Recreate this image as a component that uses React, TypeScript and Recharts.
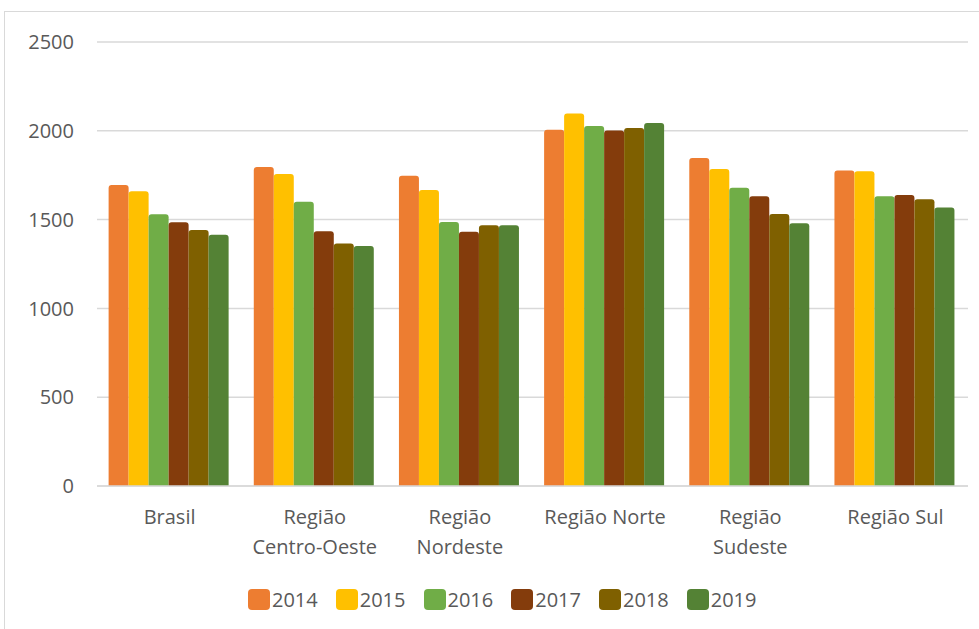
import React from 'react';
import {
  BarChart,
  Bar,
  XAxis,
  YAxis,
  CartesianGrid,
  Legend,
} from 'recharts';

const regions = [
  'Brasil',
  'Região\nCentro-Oeste',
  'Região\nNordeste',
  'Região Norte',
  'Região\nSudeste',
  'Região Sul',
];

const years = ['2014', '2015', '2016', '2017', '2018', '2019'];

const v2014 = [1695, 1796, 1747, 2006, 1847, 1776];
const v2015 = [1659, 1757, 1667, 2098, 1785, 1772];
const v2016 = [1530, 1601, 1487, 2027, 1680, 1631];
const v2017 = [1485, 1434, 1432, 2002, 1631, 1639];
const v2018 = [1442, 1365, 1468, 2016, 1532, 1614];
const v2019 = [1414, 1352, 1468, 2044, 1479, 1568];

const yTicks = [0, 500, 1000, 1500, 2000, 2500];

const colors = ['#ED7D31', '#FFC000', '#70AD47', '#843C0C', '#7F6000', '#548235'];

const series = [v2014, v2015, v2016, v2017, v2018, v2019];

const data = regions.map((name, i) => {
  const row: Record<string, string | number> = { name };
  years.forEach((y, j) => {
    row[y] = series[j][i];
  });
  return row;
});

const FONT = '"Open Sans", sans-serif';
const TEXT = '#595959';

// category labels: split on newline, one tspan per line
const RegionTick = ({ x, y, payload }: any) => {
  const lines = String(payload.value).split('\n');
  return (
    <text x={x} y={y} textAnchor="middle" fill={TEXT} fontSize={20} fontFamily={FONT}>
      {lines.map((line, i) => (
        <tspan key={i} x={x} dy={30}>
          {line}
        </tspan>
      ))}
    </text>
  );
};

const YearLegend = ({ payload }: any) => (
  <div style={{ display: 'flex', fontFamily: FONT, fontSize: 20, color: TEXT }}>
    {(payload || []).map((entry: any) => (
      <div
        key={entry.value}
        style={{ display: 'flex', alignItems: 'center', marginRight: 18 }}
      >
        <span
          style={{
            width: 22,
            height: 21,
            borderRadius: 4,
            background: entry.color,
            marginRight: 2,
            display: 'inline-block',
          }}
        />
        <span>{entry.value}</span>
      </div>
    ))}
  </div>
);

export default function App() {
  return (
    <div
      style={{
        position: 'absolute',
        left: 0,
        top: 0,
        width: 979,
        height: 629,
        overflow: 'hidden',
        background: '#fff',
      }}
    >
      <div
        style={{
          position: 'absolute',
          left: 4,
          top: 11,
          width: 1100,
          height: 800,
          border: '1.5px solid #d9d9d9',
        }}
      />
      <div style={{ position: 'absolute', left: 0, top: 0 }}>
        <BarChart
          width={979}
          height={629}
          data={data}
          margin={{ top: 42, right: 11, left: 27, bottom: 83 }}
          barCategoryGap="8%"
          barGap={0}
        >
          <CartesianGrid vertical={false} stroke="#d9d9d9" strokeWidth={1.5} />
          <XAxis
            dataKey="name"
            height={60}
            axisLine={{ stroke: '#d9d9d9', strokeWidth: 1.5 }}
            tickLine={false}
            tick={<RegionTick />}
            interval={0}
          />
          <YAxis
            width={70}
            domain={[0, 2500]}
            ticks={yTicks}
            axisLine={false}
            tickLine={false}
            tickMargin={17}
            tick={{ fontSize: 20, fill: TEXT, fontFamily: FONT }}
          />
          <Legend
            verticalAlign="middle"
            align="center"
            wrapperStyle={{ top: 586, left: 248, width: 560 }}
            content={<YearLegend />}
          />
          {years.map((y, i) => (
            <Bar
              key={y}
              dataKey={y}
              fill={colors[i]}
              radius={[3, 3, 0, 0]}
              isAnimationActive={false}
            />
          ))}
        </BarChart>
      </div>
    </div>
  );
}
